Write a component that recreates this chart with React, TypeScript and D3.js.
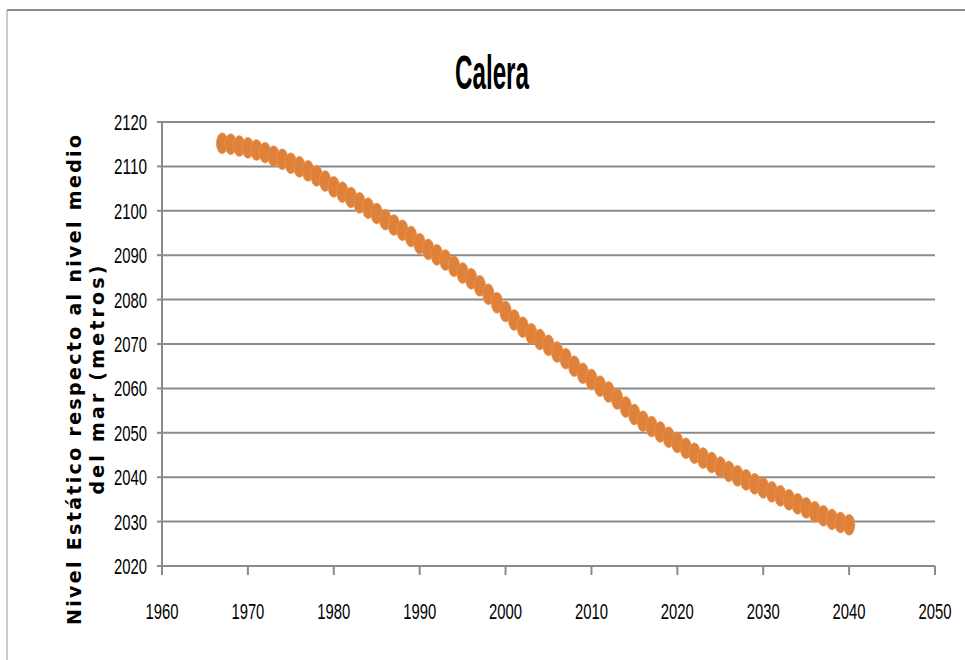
import React from "react";
import * as d3 from "d3";

// Static water level (m above mean sea level) per year
const years = [
  1967, 1968, 1969, 1970, 1971, 1972, 1973, 1974, 1975, 1976, 1977, 1978, 1979,
  1980, 1981, 1982, 1983, 1984, 1985, 1986, 1987, 1988, 1989, 1990, 1991, 1992,
  1993, 1994, 1995, 1996, 1997, 1998, 1999, 2000, 2001, 2002, 2003, 2004, 2005,
  2006, 2007, 2008, 2009, 2010, 2011, 2012, 2013, 2014, 2015, 2016, 2017, 2018,
  2019, 2020, 2021, 2022, 2023, 2024, 2025, 2026, 2027, 2028, 2029, 2030, 2031,
  2032, 2033, 2034, 2035, 2036, 2037, 2038, 2039, 2040,
];
const levels = [
  2115.2, 2115.0, 2114.6, 2114.2, 2113.7, 2113.1, 2112.3, 2111.6, 2110.7, 2109.9,
  2109.0, 2107.9, 2106.7, 2105.4, 2104.2, 2103.0, 2101.8, 2100.6, 2099.4, 2098.0,
  2096.8, 2095.6, 2094.2, 2092.6, 2091.3, 2090.1, 2088.9, 2087.5, 2086.0, 2084.7,
  2083.1, 2081.2, 2079.3, 2077.3, 2075.4, 2073.8, 2072.3, 2071.0, 2069.7, 2068.2,
  2066.7, 2065.0, 2063.4, 2062.0, 2060.5, 2059.2, 2057.6, 2055.8, 2054.1, 2052.6,
  2051.4, 2050.2, 2049.0, 2047.8, 2046.5, 2045.4, 2044.3, 2043.3, 2042.3, 2041.3,
  2040.3, 2039.4, 2038.5, 2037.6, 2036.7, 2035.8, 2034.9, 2034.0, 2033.1, 2032.2,
  2031.3, 2030.5, 2029.8, 2029.3,
];
const xTicks = [1960, 1970, 1980, 1990, 2000, 2010, 2020, 2030, 2040, 2050];
const yTicks = [2020, 2030, 2040, 2050, 2060, 2070, 2080, 2090, 2100, 2110, 2120];

const title = "Calera";
const yTitle1 = "Nivel Estático  respecto al nivel medio";
const yTitle2 = "del mar (metros)";

const W = 965;
const H = 660;
const left = 162;
const right = 935;
const top = 122;
const bottom = 566;

const gridColor = "#8a8a8a";
const markerColor = "#DF8139";

export default function App() {
  const x = d3.scaleLinear().domain([1960, 2050]).range([left, right]);
  const y = d3.scaleLinear().domain([2020, 2120]).range([bottom, top]);
  const points = years.map((yr, i) => ({ yr, v: levels[i] }));
  const numFont = "'Liberation Sans', Arial, sans-serif";
  const titleCy = (bottom + top) / 2 + 36;

  return (
    <svg
      width={W}
      height={H}
      viewBox={`0 0 ${W} ${H}`}
      style={{ position: "absolute", left: 0, top: 0, background: "#fff" }}
    >
      <rect x={0} y={0} width={W} height={H} fill="#fff" />
      {/* chart frame */}
      <line x1={7} y1={10} x2={W} y2={10} stroke="#8c8c8c" strokeWidth={2} />
      <line x1={7} y1={10} x2={7} y2={H} stroke="#a6a6a6" strokeWidth={1.2} />

      <text
        x={492}
        y={89}
        textAnchor="middle"
        fontFamily={numFont}
        fontWeight="bold"
        fontSize={48}
        textLength={74}
        lengthAdjust="spacingAndGlyphs"
        fill="#000"
      >
        {title}
      </text>

      {/* horizontal gridlines + y ticks */}
      {yTicks.map((t) => (
        <g key={t}>
          <line x1={left} x2={right} y1={y(t)} y2={y(t)} stroke={gridColor} strokeWidth={2} />
          <line x1={left - 5} x2={left} y1={y(t)} y2={y(t)} stroke={gridColor} strokeWidth={2} />
          <text
            x={147}
            y={y(t)}
            dy="0.36em"
            textAnchor="end"
            fontFamily={numFont}
            fontSize={22}
            textLength={33}
            lengthAdjust="spacingAndGlyphs"
            fill="#000"
          >
            {t}
          </text>
        </g>
      ))}

      {/* axes */}
      <line x1={left} x2={left} y1={top} y2={bottom} stroke={gridColor} strokeWidth={2} />
      <line x1={left} x2={right} y1={bottom} y2={bottom} stroke={gridColor} strokeWidth={2} />
      {xTicks.map((t) => (
        <g key={t}>
          <line x1={x(t)} x2={x(t)} y1={bottom} y2={bottom + 9} stroke={gridColor} strokeWidth={2} />
          <text
            x={x(t)}
            y={619}
            textAnchor="middle"
            fontFamily={numFont}
            fontSize={22}
            textLength={33}
            lengthAdjust="spacingAndGlyphs"
            fill="#000"
          >
            {t}
          </text>
        </g>
      ))}

      {/* y-axis title */}
      <g transform={`translate(81, ${titleCy}) rotate(-90)`}>
        <text
          x={0}
          y={0}
          textAnchor="middle"
          fontFamily="'DejaVu Sans', Verdana, sans-serif"
          fontWeight="bold"
          fontSize={19}
          textLength={490}
          lengthAdjust="spacing"
          fill="#000"
        >
          {yTitle1}
        </text>
      </g>
      <g transform={`translate(104, ${titleCy}) rotate(-90)`}>
        <text
          x={0}
          y={0}
          textAnchor="middle"
          fontFamily="'DejaVu Sans', Verdana, sans-serif"
          fontWeight="bold"
          fontSize={19}
          textLength={229}
          lengthAdjust="spacing"
          fill="#000"
        >
          {yTitle2}
        </text>
      </g>

      {/* data markers */}
      {points.map((p) => (
        <ellipse
          key={p.yr}
          cx={x(p.yr)}
          cy={y(p.v)}
          rx={5.8}
          ry={10.5}
          fill={markerColor}
          stroke="#E59A5E"
          strokeWidth={0.6}
        />
      ))}
    </svg>
  );
}
